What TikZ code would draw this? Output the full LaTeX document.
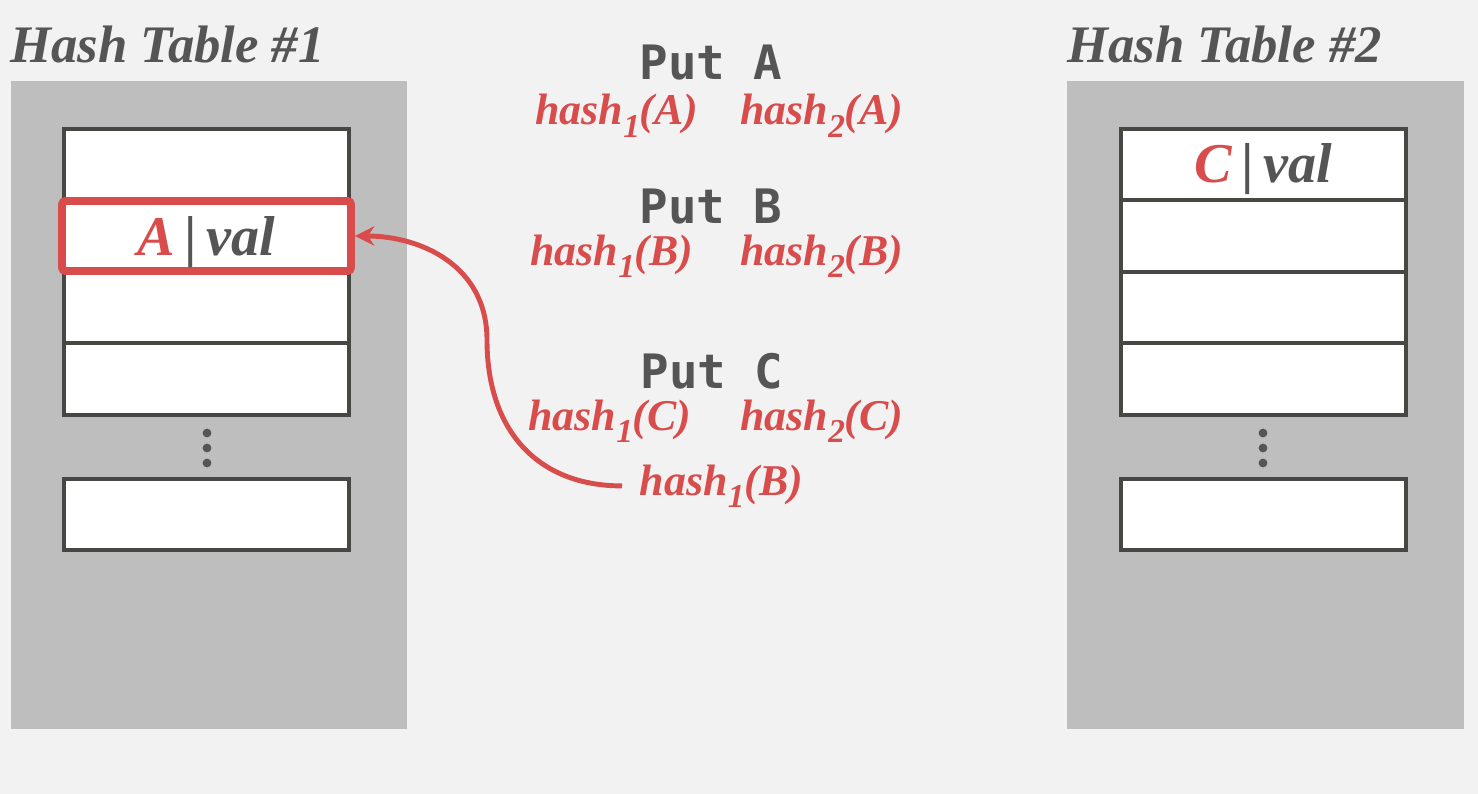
\documentclass[tikz,border=0pt]{standalone}
\usepackage{fontspec}
\setmainfont{Liberation Serif}
\newfontfamily\putfont{DejaVu Sans Mono}
\usetikzlibrary{arrows.meta,positioning}
\definecolor{bgc}{HTML}{F2F2F2}
\definecolor{panel}{HTML}{BEBEBE}
\definecolor{slotline}{HTML}{474743}
\definecolor{hashred}{HTML}{D94C4C}
\definecolor{txtgray}{HTML}{555555}
\newcommand{\hsh}[2]{hash\raisebox{-0.28em}{\fontsize{19}{19}\selectfont #1}(#2)}
\newcommand{\kv}[1]{{\color{hashred}#1}\,{\upshape|}\,val}

\begin{document}
\begin{tikzpicture}[x=0.02cm,y=-0.02cm,
    title/.style={anchor=base west,inner sep=0,text=txtgray,font=\fontsize{30}{34}\selectfont\bfseries\itshape},
    slot/.style={draw=slotline,line width=2.3pt,fill=white,minimum width=5.7cm,minimum height=1.43cm,inner sep=0,outer sep=0},
    hit/.style={draw=hashred,line width=4.5pt,rounded corners=2pt,fill=white,minimum width=5.78cm,minimum height=1.4cm,inner sep=0,
      text=txtgray,font=\fontsize{32}{36}\selectfont\bfseries\itshape,text height=22pt,text depth=0pt},
    kvslot/.style={slot,text=txtgray,font=\fontsize{32}{36}\selectfont\bfseries\itshape,text height=20pt,text depth=0pt},
    dot/.style={circle,fill=txtgray,inner sep=0,minimum size=5pt},
    putlbl/.style={anchor=base,inner sep=0,text=txtgray,font=\fontsize{27}{30}\selectfont\putfont\bfseries},
    hashtxt/.style={anchor=base west,inner sep=0,text=hashred,font=\fontsize{25}{28}\selectfont\bfseries\itshape},
    link/.style={draw=hashred,line width=2.8pt,-{Stealth[length=11pt,width=11pt]}}]
  % background and bounding box
  \fill [bgc] (0,0) rectangle (1478,794);
  \fill [panel] (11,81) rectangle (407,729);
  \fill [panel] (1067,81) rectangle (1464,729);

  \node (t1) [title] at (10,63) {Hash Table \#1};
  \node (t2) [title] at (1067,63) {Hash Table \#2};

  % hash table 1
  \node (l1) [slot] at (206.5,164.5) {};
  \node (l2) [slot,below=0pt of l1] {};
  \node (l3) [slot,below=0pt of l2] {};
  \node (l4) [slot,below=0pt of l3] {};
  \node (l5) [slot] at (206.5,514.5) {};
  \node (ld1) [dot] at (207,433) {};
  \node (ld2) [dot] at (207,448) {};
  \node (ld3) [dot] at (207,463) {};
  \node (aval) [hit] at (l2) {\kv{A}};

  % hash table 2
  \node (r1) [kvslot] at (1263.5,164.5) {\kv{C}};
  \node (r2) [slot,below=0pt of r1] {};
  \node (r3) [slot,below=0pt of r2] {};
  \node (r4) [slot,below=0pt of r3] {};
  \node (r5) [slot] at (1263.5,514.5) {};
  \node (rd1) [dot] at (1263,433) {};
  \node (rd2) [dot] at (1263,448) {};
  \node (rd3) [dot] at (1263,463) {};

  % operations
  \node (pa) [putlbl] at (711,80) {Put A};
  \node (h1a) [hashtxt] at (535,125) {\hsh{1}{A}};
  \node (h2a) [hashtxt] at (740,125) {\hsh{2}{A}};
  \node (pb) [putlbl] at (711,223) {Put B};
  \node (h1b) [hashtxt] at (530,265) {\hsh{1}{B}};
  \node (h2b) [hashtxt] at (740,265) {\hsh{2}{B}};
  \node (pc) [putlbl] at (712,388) {Put C};
  \node (h1c) [hashtxt] at (528,430) {\hsh{1}{C}};
  \node (h2c) [hashtxt] at (740,430) {\hsh{2}{C}};
  \node (hbl) [hashtxt,inner xsep=10pt] at (622,495) {\hsh{1}{B}};

  \coordinate (bend) at (487,340);
  \draw [link] (hbl.west) .. controls +(-85,0) and +(0,90) .. (bend) .. controls +(0,-75) and +(65,0) .. (aval.east);
\end{tikzpicture}
\end{document}
